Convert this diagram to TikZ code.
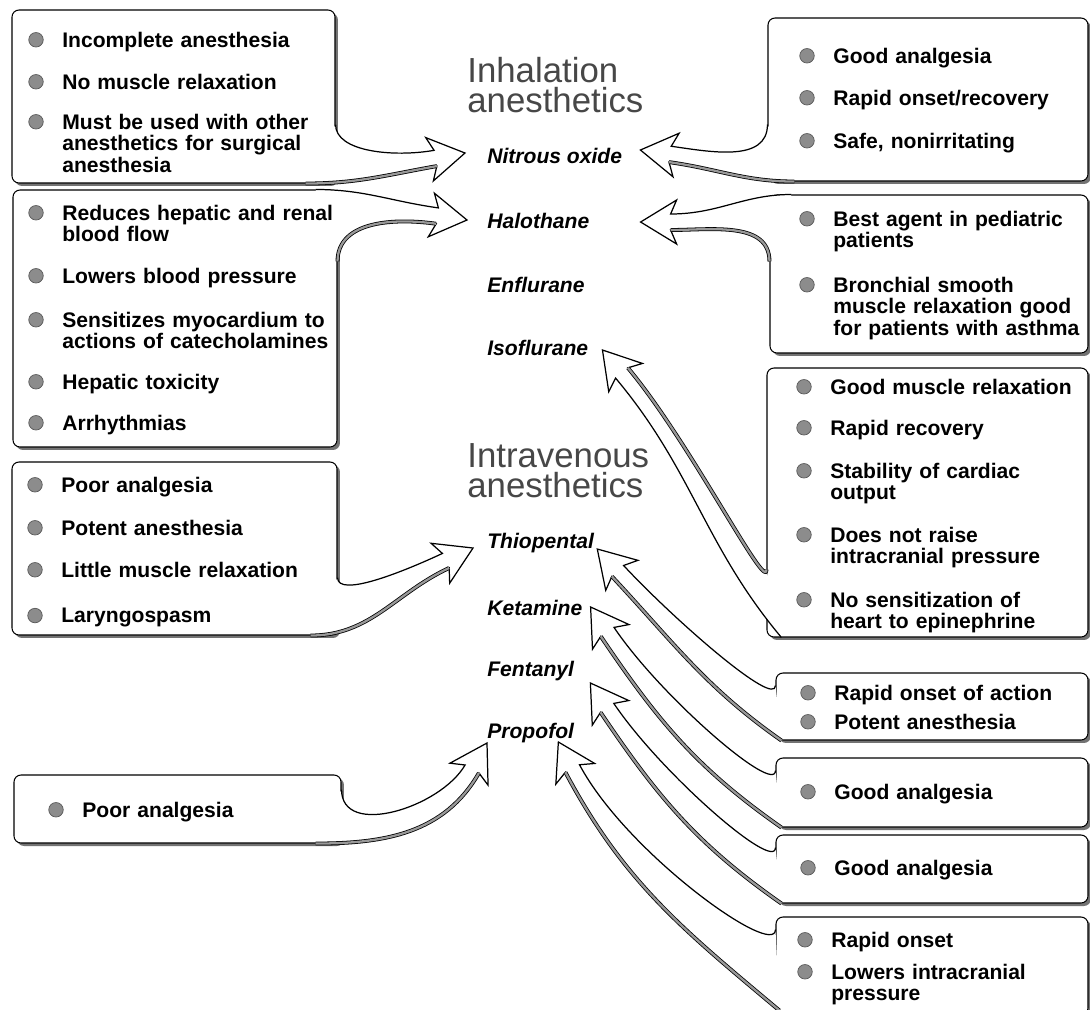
\documentclass[tikz,border=0pt]{standalone}
\usepackage{fontspec}
\setmainfont{Liberation Sans}
\usetikzlibrary{calc,fit,shadows}
\newcommand{\itemfont}{\fontsize{12}{12.2}\selectfont\bfseries}
\newcommand{\drugfont}{\fontsize{12}{12}\selectfont\bfseries\itshape}
\newcommand{\headfont}{\fontsize{19.8}{17.2}\selectfont}
\tikzset{box/.style={draw,rounded corners=4pt,fill=white,inner sep=0pt,line width=0.6pt,
  drop shadow={shadow xshift=1.7pt,shadow yshift=-1.7pt,opacity=1,fill=black!55}}}
\tikzset{dot/.style={circle,fill=black!45,draw=black!65,minimum size=0.29cm,inner sep=0pt}}
\tikzset{itm/.style={anchor=base west,inner sep=0pt,align=left,text width=#1,font=\itemfont,
  label={[dot,anchor=center,xshift=-0.52cm,yshift=-0.158cm]north west:{}}}}
\tikzset{drug/.style={anchor=base west,inner sep=0pt,font=\drugfont}}
\tikzset{head/.style={anchor=base west,inner sep=0pt,font=\headfont,text=black!72}}
\tikzset{fat/.style={draw,fill=white,line width=0.7pt,line join=miter}}
\tikzset{rim/.style={draw=black,line width=0.45pt,double=black!40,double distance=1.3pt}}
% hollow arrow: base 1, its out, base 2, its in, tip, direction, shaded side
\newcommand{\fatarrow}[7]{%
  \pgfmathsetmacro{\fback}{#6+180}%
  \pgfmathsetmacro{\fup}{#6+90}%
  \pgfmathsetmacro{\fdn}{#6-90}%
  \path[fat] (#1) to[#2,in=\fback] ($(#5)+(\fback:30)+(\fup:8)$)
    -- ($(#5)+(\fback:36)+(\fup:22)$) -- (#5)
    -- ($(#5)+(\fback:36)+(\fdn:22)$) -- ($(#5)+(\fback:30)+(\fdn:8)$)
    to[out=\fback,#4] (#3);
  \ifnum#7=1
    \path[rim] (#1) to[#2,in=\fback] ($(#5)+(\fback:30)+(\fup:8)$);
  \else
    \path[rim] ($(#5)+(\fback:30)+(\fdn:8)$) to[out=\fback,#4] (#3);
  \fi}

\begin{document}
\begin{tikzpicture}[x=0.02cm,y=0.02cm]
  \useasboundingbox (0,0) rectangle (1090,-1009);
  % boxes
  \node[box,fit={(12,-10) (335,-183)}] (L1) {};
  \node[box,fit={(13,-190) (337,-447)}] (L2) {};
  \node[box,fit={(12,-462) (337,-635)}] (L3) {};
  \node[box,fit={(14,-775) (341,-843)}] (L4) {};
  \node[box,fit={(768,-18) (1088,-181)}] (R1) {};
  \node[box,fit={(770,-195) (1088,-353)}] (R2) {};
  \node[box,fit={(767,-368) (1088,-637)}] (R3) {};
  \node[box,fit={(776,-673) (1088,-740)}] (R4) {};
  \node[box,fit={(776,-758) (1088,-827)}] (R5) {};
  \node[box,fit={(776,-835) (1088,-903)}] (R6) {};
  \node[box,fit={(776,-917) (1088,-1015)}] (R7) {};
  % headings and drugs
  \node[head] (inh1) at (467,-82) {Inhalation};
  \node[head] (inh2) at (467,-112) {anesthetics};
  \node[head] (intra1) at (467,-467) {Intravenous};
  \node[head] (intra2) at (467,-497) {anesthetics};
  \node[drug] (nitrous) at (487,-163) {Nitrous oxide};
  \node[drug] (halo) at (487,-228) {Halothane};
  \node[drug] (enflu) at (487,-292) {Enflurane};
  \node[drug] (iso) at (487,-355) {Isoflurane};
  \node[drug] (thio) at (487,-548) {Thiopental};
  \node[drug] (keta) at (487,-615) {Ketamine};
  \node[drug] (fenta) at (487,-676) {Fentanyl};
  \node[drug] (propo) at (487,-738) {Propofol};
  % arrow tips
  \coordinate (tN1) at ($(nitrous.base west)+(-22,10)$);
  \coordinate (tH1) at ($(halo.base west)+(-20,8)$);
  \coordinate (tT1) at ($(thio.base west)+(-14,0)$);
  \coordinate (tP1) at ($(propo.base west)+(0,-5)$);
  \coordinate (tN2) at ($(nitrous.base east)+(18,13)$);
  \coordinate (tH2) at ($(halo.base east)+(51,6)$);
  \coordinate (tI2) at ($(iso.base east)+(14,5)$);
  \coordinate (tT2) at ($(thio.base east)+(3,-1)$);
  \coordinate (tK2) at ($(keta.base east)+(8,8)$);
  \coordinate (tF2) at ($(fenta.base east)+(16,-7)$);
  \coordinate (tP2) at ($(propo.base east)+(-16,-4)$);
  % arrows
  \fatarrow{$(L1.north east)+(0,-115)$}{out=-90,out looseness=0.7}{$(L1.south east)+(-30,0)$}{in=0}{tN1}{10}{3}
  \fatarrow{$(L2.north east)+(-22,0)$}{out=0}{$(L2.north east)+(0,-72)$}{in=90}{tH1}{-8}{3}
  \fatarrow{$(L3.north east)+(0,-116)$}{out=-90,out looseness=0.5}{$(L3.south east)+(-27,0)$}{in=0}{tT1}{25}{3}
  \fatarrow{$(L4.north east)+(0,-15)$}{out=-90}{$(L4.south east)+(-26,0)$}{in=0}{tP1}{60}{3}
  \fatarrow{$(R1.south west)+(27,0)$}{out=180}{$(R1.north west)+(0,-107)$}{in=-90}{tN2}{172}{1}
  \fatarrow{$(R2.north west)+(0,-67)$}{out=90}{$(R2.north west)+(22,0)$}{in=180}{tH2}{180}{1}
  \fatarrow{$(R3.south west)+(15,0)$}{out=130}{$(R3.north west)+(0,-202)$}{in=-90,in looseness=0.25}{tI2}{130}{3}
  \fatarrow{$(R7.south west)+(4,5)$}{out=140}{$(R7.north west)+(0,-13)$}{in=-90,in looseness=0.3}{tP2}{118}{1}
  \fatarrow{$(R6.south west)+(6,0)$}{out=145}{$(R6.north west)+(0,-13)$}{in=-90,in looseness=0.3}{tF2}{124}{1}
  \fatarrow{$(R5.south west)+(6,0)$}{out=145}{$(R5.north west)+(0,-13)$}{in=-90,in looseness=0.3}{tK2}{124}{1}
  \fatarrow{$(R4.south west)+(6,0)$}{out=145}{$(R4.north west)+(0,-13)$}{in=-90,in looseness=0.3}{tT2}{133}{1}
  % items, left
  \node[itm=6cm] (L1a) at (62,-47.5) {Incomplete anesthesia};
  \node[itm=6cm] (L1b) at (62,-89.5) {No muscle relaxation};
  \node[itm=6cm] (L1c) at (62,-129.5) {Must be used with other\\anesthetics for surgical\\anesthesia};
  \node[itm=6cm] (L2a) at (62,-220.5) {Reduces hepatic and renal\\blood flow};
  \node[itm=6cm] (L2b) at (62,-283.5) {Lowers blood pressure};
  \node[itm=6cm] (L2c) at (62,-327.5) {Sensitizes myocardium to\\actions of catecholamines};
  \node[itm=6cm] (L2d) at (62,-389.5) {Hepatic toxicity};
  \node[itm=6cm] (L2e) at (62,-430.5) {Arrhythmias};
  \node[itm=6cm] (L3a) at (61,-492.5) {Poor analgesia};
  \node[itm=6cm] (L3b) at (61,-535.5) {Potent anesthesia};
  \node[itm=6cm] (L3c) at (61,-577.5) {Little muscle relaxation};
  \node[itm=6cm] (L3d) at (61,-622.5) {Laryngospasm};
  \node[itm=5cm] (L4a) at (82,-817.5) {Poor analgesia};
  % items, right
  \node[itm=5.3cm] (R1a) at (833,-63.5) {Good analgesia};
  \node[itm=5.3cm] (R1b) at (833,-105.5) {Rapid onset/recovery};
  \node[itm=5.3cm] (R1c) at (833,-148.5) {Safe, nonirritating};
  \node[itm=5.3cm] (R2a) at (833,-226.5) {Best agent in pediatric\\patients};
  \node[itm=5.3cm] (R2b) at (833,-292.5) {Bronchial smooth\\muscle relaxation good\\for patients with asthma};
  \node[itm=5.3cm] (R3a) at (830,-394.5) {Good muscle relaxation};
  \node[itm=5.3cm] (R3b) at (830,-435.5) {Rapid recovery};
  \node[itm=5.3cm] (R3c) at (830,-478.5) {Stability of cardiac\\output};
  \node[itm=5.3cm] (R3d) at (830,-542.5) {Does not raise\\intracranial pressure};
  \node[itm=5.3cm] (R3e) at (830,-607.5) {No sensitization of\\heart to epinephrine};
  \node[itm=5.3cm] (R4a) at (834,-700.5) {Rapid onset of action};
  \node[itm=5.3cm] (R4b) at (834,-729.5) {Potent anesthesia};
  \node[itm=5.3cm] (R5a) at (834,-799.5) {Good analgesia};
  \node[itm=5.3cm] (R6a) at (834,-875.5) {Good analgesia};
  \node[itm=5.3cm] (R7a) at (831,-947.5) {Rapid onset};
  \node[itm=5.3cm] (R7b) at (831,-979.5) {Lowers intracranial\\pressure};
\end{tikzpicture}
\end{document}
